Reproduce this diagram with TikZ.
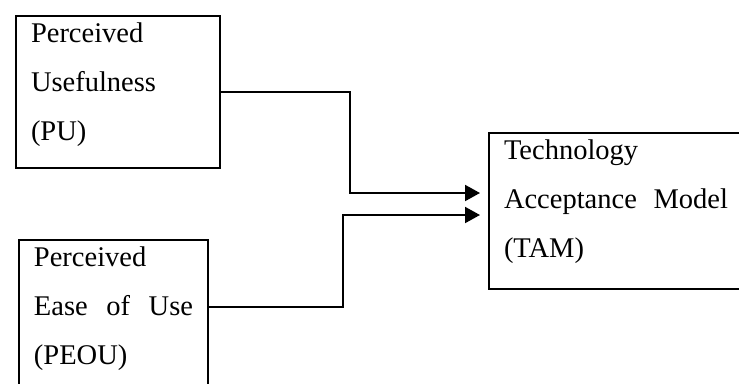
\documentclass[tikz,border=0pt]{standalone}
\usepackage{fontspec}
\setmainfont{Liberation Serif}
\usetikzlibrary{arrows.meta}

\begin{document}
\begin{tikzpicture}[
            x = 1pt, y = -1pt, % pixel grid, y pointing down
            > = {Triangle[length=15pt, width=16pt]}, % arrow head style
            shorten > = 8pt, % don't touch arrow head to node
            box/.style = {draw=black, line width=2pt, anchor=north west,
                inner xsep=15pt, inner ysep=7pt, align=left,
                font=\fontsize{28.5}{49}\selectfont},
            flow/.style = {->, line width=2pt}
        ]
\clip (0,0) rectangle (739,383);

\node[box, text width=174pt] (PU) at (15,15)
    {Perceived\\Usefulness\\(PU)\rule[-20pt]{0pt}{20pt}};
\node[box, text width=159pt] (PEOU) at (18,239)
    {Perceived\\\makebox[159pt]{Ease\hfill of\hfill Use}\\(PEOU)\rule[-30pt]{0pt}{30pt}};
\node[box, text width=224pt] (TAM) at (488,132)
    {Technology\\\makebox[224pt]{Acceptance\hfill Model}\\(TAM)\rule[-24pt]{0pt}{24pt}};

 \draw[flow] (PU.east) -| (350,193) -- (TAM.west |- 350,193);
 \draw[flow] ([yshift=-68pt]PEOU.north east) -| (343,215) -- (TAM.west |- 343,215);

\end{tikzpicture}
\end{document}
